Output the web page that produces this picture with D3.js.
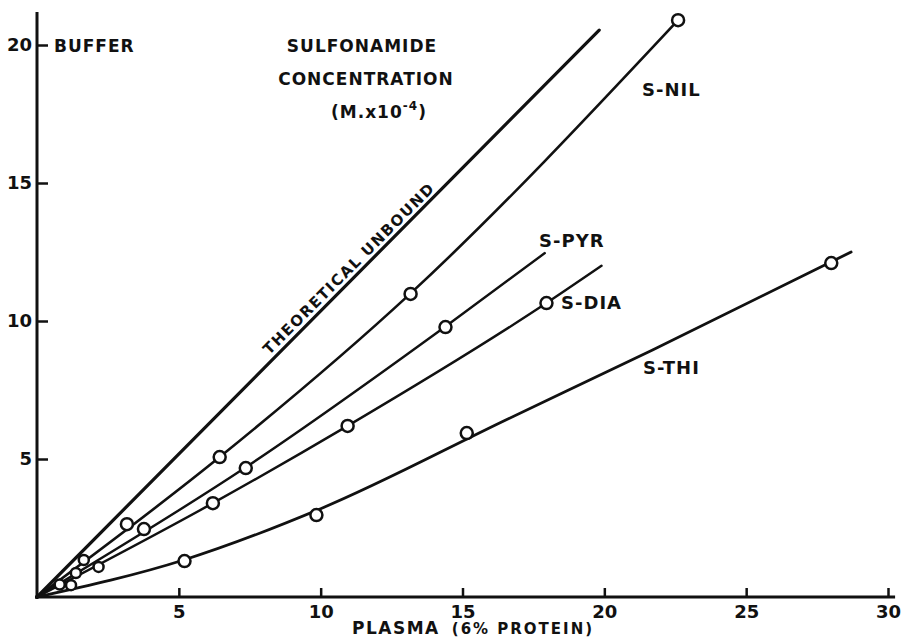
<!DOCTYPE html>
<html>
<head>
<meta charset="utf-8">
<script src="https://cdn.jsdelivr.net/npm/d3@7/dist/d3.min.js"></script>
<style>
  html, body { margin: 0; padding: 0; background: #fff; }
  svg text { font-family: "DejaVu Sans", sans-serif; font-weight: bold; fill: #111; }
</style>
</head>
<body>
<svg id="chart" width="906" height="640"></svg>
<script>
// ---- data ----
const xTicks = [5, 10, 15, 20, 25, 30];
const yTicks = [5, 10, 15, 20];

// measured points: [plasma, buffer]
const snilPoints = [[1.65, 1.34], [3.17, 2.64], [6.44, 5.07], [13.17, 10.98], [22.6, 20.9]];
const spyrPoints = [[1.37, 0.87], [3.77, 2.46], [7.36, 4.67], [14.4, 9.78]];
const sdiaPoints = [[0.8, 0.45], [2.17, 1.09], [6.2, 3.4], [10.95, 6.2], [17.96, 10.65]];
const sthiPoints = [[1.2, 0.43], [5.2, 1.3], [9.85, 2.97], [15.15, 5.94], [28.0, 12.1]];

// drawn curves (hand-read nodes along each line)
const theoCurve = [[0, 0], [19.82, 20.54]];
const snilCurve = [[0, 0], [6.44, 5.07], [13.17, 11.0], [22.6, 20.9]];
const spyrCurve = [[0, 0], [7.36, 4.7], [14.4, 9.8], [17.9, 12.46]];
const sdiaCurve = [[0, 0], [6.2, 3.4], [10.95, 6.2], [17.96, 10.65], [19.9, 12.0]];
const sthiCurve = [[0, 0], [5.2, 1.35], [10, 3.2], [16.6, 6.45], [21.7, 8.95], [28.7, 12.5]];

const seriesLabels = ["S-NIL", "S-PYR", "S-DIA", "S-THI"];

// ---- scales ----
const svg = d3.select("#chart");
const x = d3.scaleLinear().domain([0, 30]).range([37, 888]);
const y = d3.scaleLinear().domain([0, 20]).range([597, 45]);

// ---- axes ----
const xAxis = d3.axisBottom(x).tickValues(xTicks).tickSizeInner(-9).tickSizeOuter(0).tickPadding(8);
const yAxis = d3.axisLeft(y).tickValues(yTicks).tickSizeInner(-11).tickSizeOuter(0).tickPadding(5);

const gx = svg.append("g").attr("transform", `translate(0,${y(0)})`).call(xAxis);
const gy = svg.append("g").attr("transform", `translate(${x(0)},0)`).call(yAxis);
[gx, gy].forEach(g => {
  g.select(".domain").remove();
  g.selectAll(".tick line").attr("stroke", "#111").attr("stroke-width", 2.5);
  g.selectAll(".tick text").attr("font-size", 18).attr("fill", "#111")
    .style("font-family", "'DejaVu Sans', sans-serif").style("font-weight", "bold");
});

// axis lines
svg.append("line").attr("x1", x(0) - 2).attr("x2", x(30.25)).attr("y1", y(0)).attr("y2", y(0))
  .attr("stroke", "#111").attr("stroke-width", 3);
svg.append("line").attr("x1", x(0)).attr("x2", x(0)).attr("y1", y(0) + 2).attr("y2", y(21.2))
  .attr("stroke", "#111").attr("stroke-width", 3);

// ---- curves ----
const line = d3.line().x(d => x(d[0])).y(d => y(d[1])).curve(d3.curveMonotoneX);
const curves = [
  { data: theoCurve, w: 3.2 },
  { data: snilCurve, w: 2.6 },
  { data: spyrCurve, w: 2.4 },
  { data: sdiaCurve, w: 2.4 },
  { data: sthiCurve, w: 2.8 }
];
svg.append("g").selectAll("path").data(curves).join("path")
  .attr("d", d => line(d.data))
  .attr("fill", "none").attr("stroke", "#111").attr("stroke-width", d => d.w)
  .attr("stroke-linecap", "round");

// ---- points ----
const allPoints = [snilPoints, spyrPoints, sdiaPoints, sthiPoints];
svg.append("g").selectAll("g").data(allPoints).join("g")
  .selectAll("circle").data(d => d).join("circle")
  .attr("cx", d => x(d[0])).attr("cy", d => y(d[1]))
  .attr("r", d => d[0] < 2.5 ? 5 : 6)
  .attr("fill", "#fff").attr("stroke", "#111").attr("stroke-width", 2.5);

// ---- labels ----
const txt = (t, px, py, size, anchor) => svg.append("text")
  .attr("x", px).attr("y", py).attr("font-size", size)
  .attr("text-anchor", anchor || "start").text(t);

txt("BUFFER", 54, 52, 17).attr("letter-spacing", 1);
txt("SULFONAMIDE", 362, 52, 17, "middle").attr("letter-spacing", 1);
txt("CONCENTRATION", 366, 85, 17, "middle").attr("letter-spacing", 1);
const m = txt("(M.x10", 331, 118, 17).attr("letter-spacing", 1);
m.append("tspan").attr("dy", -8).attr("font-size", 12).text("-4");
m.append("tspan").attr("dy", 8).text(")");

txt(seriesLabels[0], 642, 96, 18).attr("letter-spacing", 1);
txt(seriesLabels[1], 539, 247, 18).attr("letter-spacing", 1);
txt(seriesLabels[2], 561, 309, 18).attr("letter-spacing", 1);
txt(seriesLabels[3], 643, 374, 18).attr("letter-spacing", 1);

svg.append("text")
  .attr("transform", `translate(${x(11.0)},${y(11.9)}) rotate(-45)`)
  .attr("text-anchor", "middle").attr("dominant-baseline", "central")
  .attr("font-size", 15).attr("letter-spacing", 1.5)
  .text("THEORETICAL  UNBOUND");

const xt = txt("PLASMA", 352, 634, 17).attr("letter-spacing", 1.5);
xt.append("tspan").attr("dx", 12).attr("font-size", 15).attr("letter-spacing", 2).text("(6% PROTEIN)");
</script>
</body>
</html>
